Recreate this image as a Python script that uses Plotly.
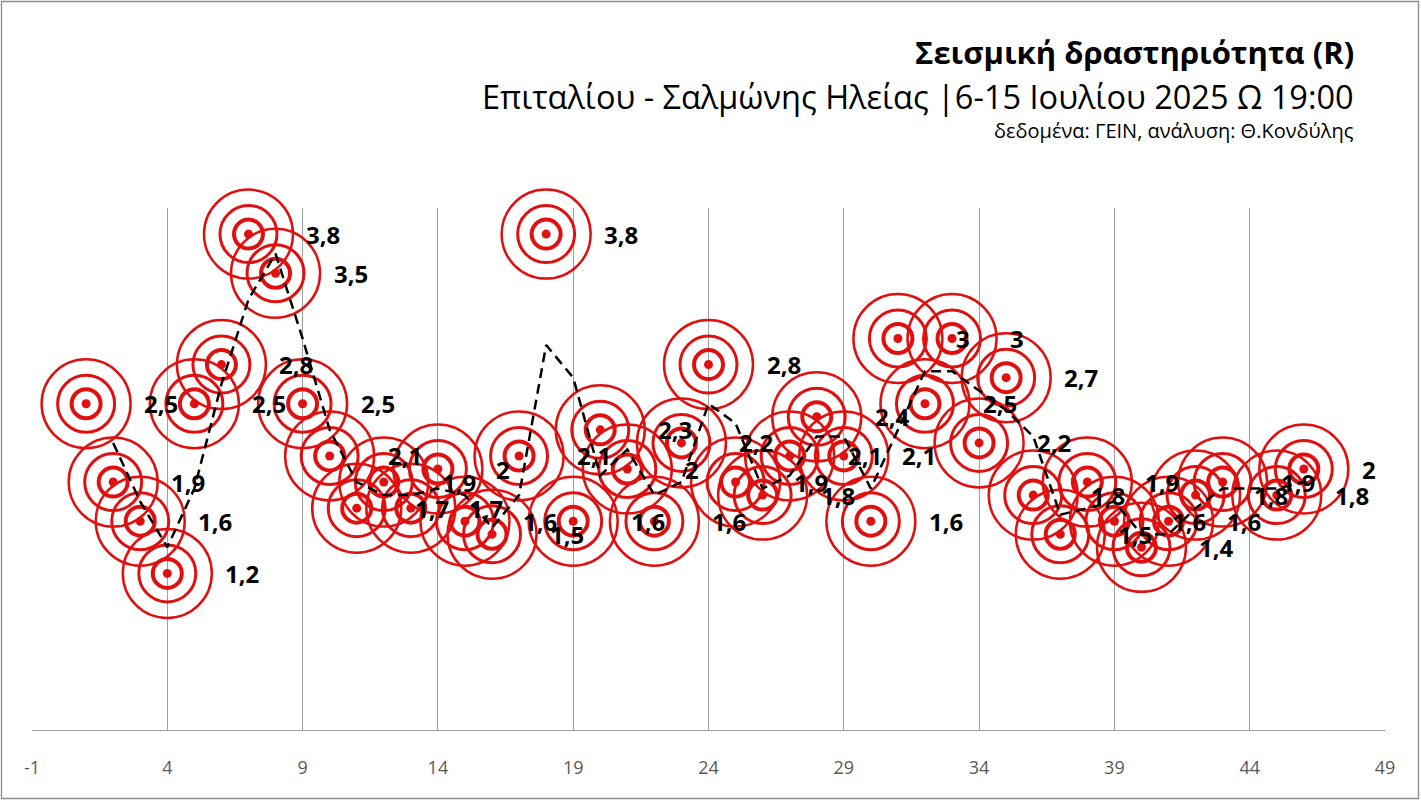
import plotly.graph_objects as go

# ---- data ----
event_index = [1, 2, 3, 4, 5, 6, 7, 8, 9, 10, 11, 12, 13, 14, 15, 16, 17, 18, 19, 20,
               21, 22, 23, 24, 25, 26, 27, 28, 29, 30, 31, 32, 33, 34, 35, 36, 37, 38,
               39, 40, 41, 42, 43, 45, 46]
magnitude = [2.5, 1.9, 1.6, 1.2, 2.5, 2.8, 3.8, 3.5, 2.5, 2.1, 1.7, 1.9, 1.7, 2.0, 1.6,
             1.5, 2.1, 3.8, 1.6, 2.3, 2.0, 1.6, 2.2, 2.8, 1.9, 1.8, 2.1, 2.4, 2.1, 1.6,
             3.0, 2.5, 3.0, 2.2, 2.7, 1.8, 1.5, 1.9, 1.6, 1.4, 1.6, 1.8, 1.9, 1.8, 2.0]
x_ticks = [-1, 4, 9, 14, 19, 24, 29, 34, 39, 44, 49]

title_main = "Σεισμική δραστηριότητα (R)"
title_sub = "Επιταλίου - Σαλμώνης Ηλείας |6-15 Ιουλίου 2025 Ω 19:00"
title_src = "δεδομένα: ΓΕΙΝ, ανάλυση: Θ.Κονδύλης"

# 2-period moving average trendline (as in the original spreadsheet chart)
ma_x = event_index[1:]
ma_y = [(magnitude[i - 1] + magnitude[i]) / 2 for i in range(1, len(magnitude))]

# ---- layout constants (pixels) ----
W, H = 1421, 800
L, R, T, B = 32, 36, 208, 70
PW, PH = W - L - R, H - T - B

def px(xp):
    return (xp - L) / PW

def py(yp):
    return (H - B - yp) / PH

RED = "#E01010"
FONT = "Open Sans, Noto Sans, sans-serif"

fig = go.Figure()

rings = [(89, 2.5), (57, 3.0), (29, 4.0)]
for size, lw in rings:
    fig.add_trace(go.Scatter(
        x=event_index, y=magnitude, mode="markers",
        marker=dict(symbol="circle-open", size=size, color=RED,
                    line=dict(color=RED, width=lw)),
        hoverinfo="skip", showlegend=False, cliponaxis=False))
fig.add_trace(go.Scatter(
    x=event_index, y=magnitude, mode="markers",
    marker=dict(symbol="circle", size=9, color=RED, line=dict(width=0)),
    hoverinfo="skip", showlegend=False, cliponaxis=False))

fig.add_trace(go.Scatter(
    x=ma_x, y=ma_y, mode="lines",
    line=dict(color="black", width=2.5, dash="10px,6px"),
    hoverinfo="skip", showlegend=False, cliponaxis=False))

annotations = []
for xi, yi in zip(event_index, magnitude):
    txt = ("%g" % yi).replace(".", ",")
    annotations.append(dict(
        x=xi, y=yi, xref="x", yref="y", text="<b>%s</b>" % txt,
        showarrow=False, xanchor="left", yanchor="middle", xshift=56,
        font=dict(family=FONT, size=24, color="black")))

annotations += [
    dict(x=px(1356), y=py(52), xref="paper", yref="paper", text="<b>%s</b>" % title_main,
         showarrow=False, xanchor="right", yanchor="middle",
         font=dict(family=FONT, size=31, color="black")),
    dict(x=px(1356), y=py(97), xref="paper", yref="paper", text=title_sub,
         showarrow=False, xanchor="right", yanchor="middle",
         font=dict(family=FONT, size=32.5, color="black")),
    dict(x=px(1356), y=py(130), xref="paper", yref="paper", text=title_src,
         showarrow=False, xanchor="right", yanchor="middle",
         font=dict(family=FONT, size=20, color="black")),
]

shapes = [dict(type="rect", xref="paper", yref="paper",
               x0=px(1.5), x1=px(1418.5), y0=py(798.5), y1=py(1.5),
               line=dict(color="#8C8C8C", width=1.3), fillcolor="rgba(0,0,0,0)",
               layer="below")]

fig.update_layout(
    width=W, height=H,
    margin=dict(l=L, r=R, t=T, b=B, pad=0),
    paper_bgcolor="white", plot_bgcolor="white",
    showlegend=False,
    xaxis=dict(range=[-1, 49], tickmode="array", tickvals=x_ticks,
               ticktext=[str(v) for v in x_ticks],
               showgrid=True, gridcolor="#A0A0A0", gridwidth=1,
               showline=True, linecolor="#A0A0A0", linewidth=1,
               zeroline=False, ticks="", ticklabelstandoff=21,
               tickfont=dict(family=FONT, size=18, color="#595959"),
               fixedrange=True),
    yaxis=dict(range=[0, 4], showgrid=False, zeroline=False, showline=False,
               showticklabels=False, ticks="", fixedrange=True),
    annotations=annotations,
    shapes=shapes,
)

fig.write_html("out.html")
